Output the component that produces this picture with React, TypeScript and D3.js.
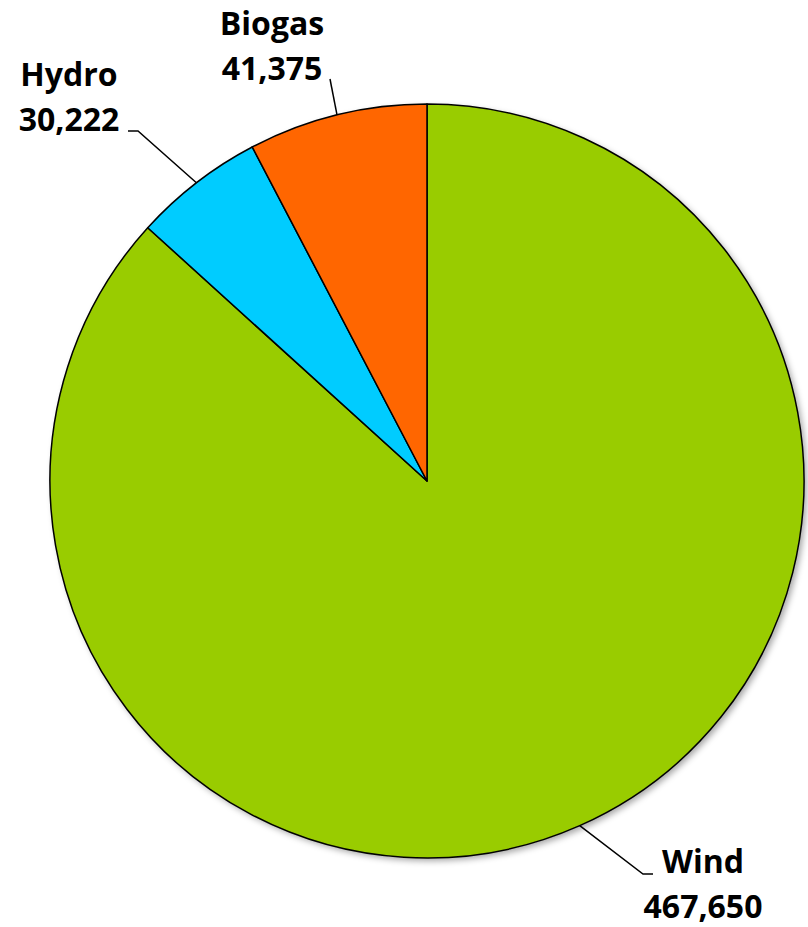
import React, { useEffect, useRef } from "react";
import * as d3 from "d3";

const categories = ["Wind", "Hydro", "Biogas"];
const values = [467650, 30222, 41375];
const colors = ["#99CC00", "#00CCFF", "#FF6600"];

// where each label sits, and where its leader line bends
const labelSpots: { [k: string]: { x: number; y: number; bend: [number, number]; end: [number, number] } } = {
  Wind: { x: 703, y: 873, bend: [643, 874], end: [653, 874] },
  Hydro: { x: 69, y: 86, bend: [138, 131], end: [128, 131] },
  Biogas: { x: 272, y: 35, bend: [330, 79], end: [330, 79] },
};

export default function App() {
  const ref = useRef<SVGSVGElement>(null);

  useEffect(() => {
    document.body.style.margin = "0";
    const width = 808;
    const height = 927;
    const cx = 427;
    const cy = 481;
    const radius = 377;

    const data = categories.map((c, i) => ({ name: c, value: values[i], color: colors[i] }));

    const svg = d3.select(ref.current).attr("width", width).attr("height", height);
    svg.selectAll("*").remove();

    const defs = svg.append("defs");
    const filter = defs.append("filter").attr("id", "shadow").attr("x", "-10%").attr("y", "-10%").attr("width", "120%").attr("height", "120%");
    filter.append("feDropShadow").attr("dx", 3).attr("dy", 3).attr("stdDeviation", 3).attr("flood-color", "#000").attr("flood-opacity", 0.35);

    const pie = d3.pie<any>().sort(null).value(d => d.value);
    const arcs = pie(data);
    const arc = d3.arc<any>().innerRadius(0).outerRadius(radius);

    const g = svg.append("g").attr("transform", `translate(${cx}, ${cy})`);

    // shadow under the whole pie
    g.append("circle").attr("r", radius).attr("fill", "#fff").attr("filter", "url(#shadow)");

    g.selectAll("path.slice").data(arcs).join("path")
      .attr("class", "slice")
      .attr("d", arc)
      .attr("fill", d => d.data.color)
      .attr("stroke", "black")
      .attr("stroke-width", 1.5)
      .attr("stroke-linejoin", "round");

    // leader lines
    arcs.forEach(a => {
      const mid = (a.startAngle + a.endAngle) / 2;
      const px = cx + radius * Math.sin(mid);
      const py = cy - radius * Math.cos(mid);
      const spot = labelSpots[a.data.name];
      svg.append("polyline")
        .attr("points", `${px},${py} ${spot.bend[0]},${spot.bend[1]} ${spot.end[0]},${spot.end[1]}`)
        .attr("fill", "none")
        .attr("stroke", "black")
        .attr("stroke-width", 1.5);
    });

    // labels
    const fmt = d3.format(",");
    data.forEach(d => {
      const spot = labelSpots[d.name];
      const t = svg.append("text")
        .attr("text-anchor", "middle")
        .attr("font-family", "'Open Sans', sans-serif")
        .attr("font-weight", "bold")
        .attr("font-size", 32)
        .attr("fill", "black");
      t.append("tspan").attr("x", spot.x).attr("y", spot.y).text(d.name);
      t.append("tspan").attr("x", spot.x).attr("y", spot.y + 45).text(fmt(d.value));
    });
  }, []);

  return <svg ref={ref}></svg>;
}
